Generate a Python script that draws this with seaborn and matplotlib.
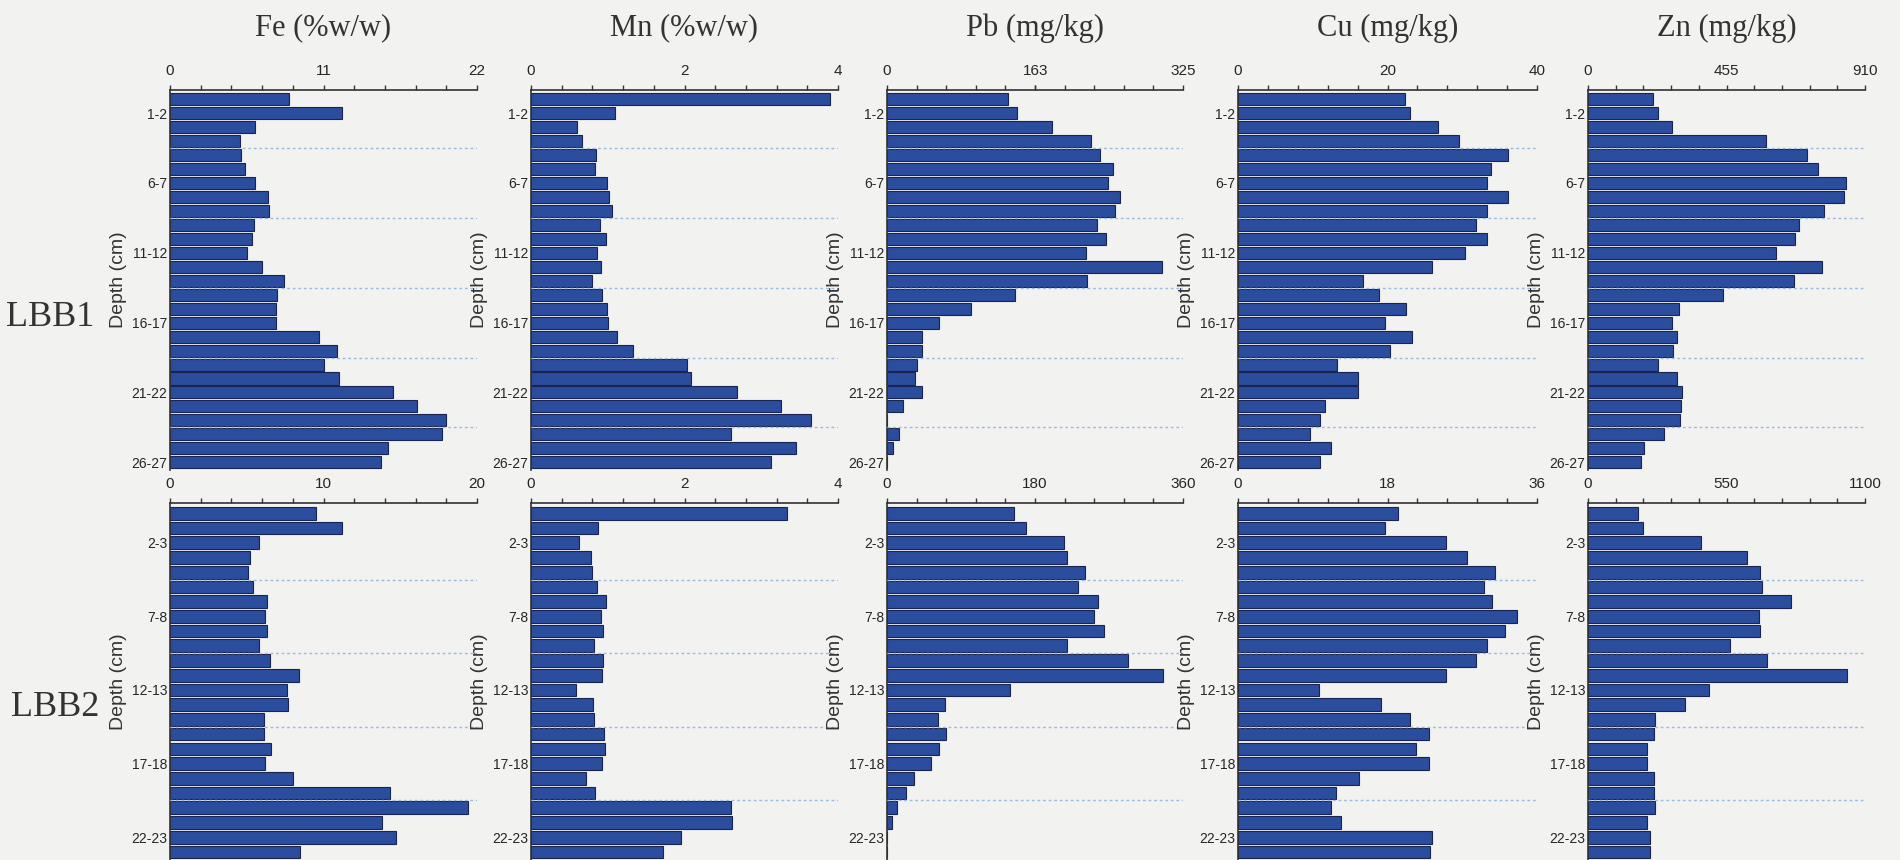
import numpy as np
import pandas as pd
import matplotlib
matplotlib.use('Agg')
import matplotlib.pyplot as plt
import seaborn as sns

sns.set_style('white')
plt.rcParams['font.family'] = ['Liberation Sans Narrow', 'Liberation Sans', 'DejaVu Sans']

# ---- data ----
titles = ['Fe (%w/w)', 'Mn (%w/w)', 'Pb (mg/kg)', 'Cu (mg/kg)', 'Zn (mg/kg)']
cores = ['LBB1', 'LBB2']

depth_lbb1 = [f'{i}-{i + 1}' for i in range(27)]
depth_lbb2 = [f'{i}-{i + 1}' for i in range(24)]
ticks_lbb1 = ['1-2', '6-7', '11-12', '16-17', '21-22', '26-27']
ticks_lbb2 = ['2-3', '7-8', '12-13', '17-18', '22-23']

fe_lbb1 = [8.5, 12.3, 6.1, 5.0, 5.1, 5.4, 6.1, 7.0, 7.1, 6.0, 5.9, 5.5, 6.6, 8.2,
           7.7, 7.6, 7.6, 10.7, 12.0, 11.0, 12.1, 16.0, 17.7, 19.8, 19.5, 15.6, 15.1]
mn_lbb1 = [3.90, 1.10, 0.60, 0.66, 0.85, 0.83, 0.99, 1.01, 1.06, 0.90, 0.98, 0.86, 0.91, 0.79,
           0.92, 0.99, 1.00, 1.12, 1.33, 2.03, 2.08, 2.68, 3.26, 3.65, 2.60, 3.45, 3.13]
pb_lbb1 = [133, 143, 181, 224, 234, 248, 243, 256, 250, 231, 241, 218, 302, 220,
           140, 92, 57, 38, 38, 33, 31, 38, 18, 0, 13, 7, 0]
cu_lbb1 = [22.3, 23.0, 26.7, 29.6, 36.1, 33.9, 33.3, 36.1, 33.3, 31.8, 33.3, 30.4, 26.0, 16.7,
           18.9, 22.5, 19.6, 23.3, 20.4, 13.2, 16.1, 16.1, 11.7, 11.0, 9.6, 12.5, 11.0]
zn_lbb1 = [215, 231, 275, 584, 719, 757, 846, 842, 776, 692, 680, 617, 769, 676,
           443, 298, 275, 293, 278, 230, 291, 309, 307, 303, 249, 183, 175]

fe_lbb2 = [9.5, 11.2, 5.8, 5.2, 5.1, 5.4, 6.3, 6.2, 6.3, 5.8, 6.5, 8.4, 7.6, 7.7,
           6.1, 6.1, 6.6, 6.2, 8.0, 14.3, 19.4, 13.8, 14.7, 8.5]
mn_lbb2 = [3.33, 0.87, 0.63, 0.78, 0.80, 0.86, 0.98, 0.91, 0.94, 0.82, 0.94, 0.93, 0.59, 0.81,
           0.82, 0.95, 0.97, 0.92, 0.72, 0.83, 2.60, 2.62, 1.95, 1.72]
pb_lbb2 = [155, 169, 215, 219, 241, 232, 257, 252, 264, 219, 293, 336, 149, 70,
           62, 72, 63, 54, 33, 23, 12, 6, 0, 0]
cu_lbb2 = [19.3, 17.7, 25.1, 27.6, 30.9, 29.6, 30.6, 33.6, 32.2, 30.0, 28.6, 25.1, 9.8, 17.2,
           20.7, 23.0, 21.4, 23.0, 14.6, 11.8, 11.2, 12.4, 23.3, 23.1]
zn_lbb2 = [200, 218, 449, 632, 685, 692, 807, 678, 685, 564, 710, 1029, 479, 385,
           268, 263, 236, 236, 263, 264, 268, 234, 248, 245]

xticks_lbb1 = [(0, 11, 22), (0, 2, 4), (0, 163, 325), (0, 20, 40), (0, 455, 910)]
xticks_lbb2 = [(0, 10, 20), (0, 2, 4), (0, 180, 360), (0, 18, 36), (0, 550, 1100)]

grid_lbb1 = [3.5, 8.5, 13.5, 18.5, 23.5]
grid_lbb2 = [4.5, 9.5, 14.5, 19.5]

rows = [
    dict(depth=depth_lbb1, ticks=ticks_lbb1, xt=xticks_lbb1, grid=grid_lbb1,
         vals=[fe_lbb1, mn_lbb1, pb_lbb1, cu_lbb1, zn_lbb1], ylim=(26.55, -0.65), box=(90, 470)),
    dict(depth=depth_lbb2, ticks=ticks_lbb2, xt=xticks_lbb2, grid=grid_lbb2,
         vals=[fe_lbb2, mn_lbb2, pb_lbb2, cu_lbb2, zn_lbb2], ylim=(23.55, -0.7), box=(503, 860)),
]

W, H = 1900, 860
lefts = [170, 531, 887, 1238, 1588]
rights = [477, 838, 1183, 1537, 1865]
bg = '#f2f2f0'
bar_color = '#2b4d9e'

fig = plt.figure(figsize=(19, 8.6), dpi=100, facecolor=bg)

for r, row in enumerate(rows):
    top, bot = row['box']
    for c in range(5):
        ax = fig.add_axes([lefts[c] / W, 1 - bot / H, (rights[c] - lefts[c]) / W, (bot - top) / H])
        ax.set_facecolor(bg)
        df = pd.DataFrame({'depth': row['depth'], 'value': row['vals'][c]})
        sns.barplot(data=df, x='value', y='depth', order=row['depth'], orient='h',
                    color=bar_color, saturation=1, width=0.86,
                    edgecolor='#1a2450', linewidth=0.8, ax=ax)
        for g in row['grid']:
            ax.axhline(g, color='#9bbbdc', lw=1.0, ls=(0, (2, 2)), zorder=5)
        xt = row['xt'][c]
        ax.set_xlim(0, xt[2])
        ax.set_ylim(*row['ylim'])
        ax.xaxis.tick_top()
        ax.set_xticks(list(xt))
        ax.set_xticklabels([str(v) for v in xt], fontsize=11)
        ax.set_xticks(np.linspace(0, xt[2], 11), minor=True)
        ax.tick_params(axis='x', which='both', direction='out', length=3.5, width=1,
                       color='#333333', pad=5)
        ax.set_yticks([row['depth'].index(t) for t in row['ticks']])
        ax.set_yticklabels(row['ticks'], fontsize=10)
        ax.set_yticks(row['grid'], minor=True)
        ax.tick_params(axis='y', which='major', length=0, pad=2)
        ax.tick_params(axis='y', which='minor', direction='out', length=4, width=1, color='#333333')
        ax.set_xlabel('')
        ax.set_ylabel('Depth (cm)', fontsize=14, labelpad=3,
                      family=['Liberation Sans', 'DejaVu Sans'], color='#333333')
        for s in ['right', 'bottom']:
            ax.spines[s].set_visible(False)
        for s in ['top', 'left']:
            ax.spines[s].set_color('#333333')
            ax.spines[s].set_linewidth(1.2)
        if r == 0:
            cx = (lefts[c] + rights[c]) / 2 / W
            fig.text(cx, 1 - 28 / H, titles[c], ha='center', va='center', fontsize=22,
                     family=['Liberation Serif', 'DejaVu Serif'], color='#333333')

fig.text(50 / W, 1 - 318 / H, cores[0], ha='center', va='center', fontsize=26,
         family=['Liberation Serif', 'DejaVu Serif'], color='#333333')
fig.text(55 / W, 1 - 707 / H, cores[1], ha='center', va='center', fontsize=26,
         family=['Liberation Serif', 'DejaVu Serif'], color='#333333')

fig.savefig('out.png', dpi=100, facecolor=bg)
